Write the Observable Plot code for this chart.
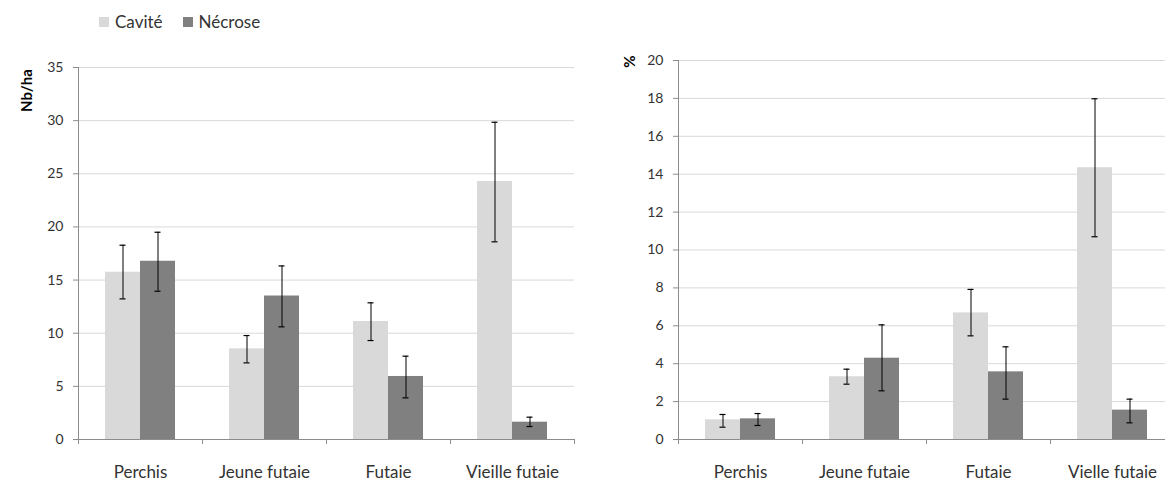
<!DOCTYPE html>
<html>
<head>
<meta charset="utf-8">
<script src="https://cdn.jsdelivr.net/npm/d3@7"></script>
<script src="https://cdn.jsdelivr.net/npm/@observablehq/plot@0.6"></script>
<style>
  html, body { margin: 0; padding: 0; background: #fff; overflow: hidden; width: 1165px; height: 482px; }
  body { position: relative; font-family: Lato, "Noto Sans", sans-serif; color: #333; }
  #legend { position: absolute; left: 99px; top: 11px; font-size: 17px; display: flex; align-items: center; }
  #legend .sw { display: inline-block; width: 10px; height: 10px; margin-right: 6px; }
  #legend .item { display: flex; align-items: center; margin-right: 20px; }
  #left { position: absolute; left: 0; top: 0; width: 580px; height: 482px; }
  #right { position: absolute; left: 580px; top: 0; width: 600px; height: 482px; }
  #left svg, #right svg { max-width: none !important; }
</style>
</head>
<body>
<div id="left"></div>
<div id="right"></div>
<div id="legend"></div>
<script>
// ---- data ----
const categoriesLeft = ["Perchis", "Jeune futaie", "Futaie", "Vieille futaie"];
const categoriesRight = ["Perchis", "Jeune futaie", "Futaie", "Vielle futaie"];
const series = ["Cavité", "Nécrose"];
const seriesColors = ["#d9d9d9", "#808080"];

const densCavite = [15.74, 8.53, 11.1, 24.27];
const densCaviteLow = [13.23, 7.21, 9.31, 18.6];
const densCaviteHigh = [18.28, 9.78, 12.86, 29.85];
const densNecrose = [16.77, 13.5, 5.93, 1.63];
const densNecroseLow = [13.95, 10.6, 3.92, 1.22];
const densNecroseHigh = [19.5, 16.33, 7.84, 2.1];

const pctCavite = [1.04, 3.31, 6.68, 14.34];
const pctCaviteLow = [0.65, 2.92, 5.47, 10.7];
const pctCaviteHigh = [1.32, 3.71, 7.92, 17.98];
const pctNecrose = [1.09, 4.29, 3.57, 1.55];
const pctNecroseLow = [0.74, 2.57, 2.13, 0.88];
const pctNecroseHigh = [1.37, 6.05, 4.89, 2.13];

const densTicks = [0, 5, 10, 15, 20, 25, 30, 35];
const pctTicks = [0, 2, 4, 6, 8, 10, 12, 14, 16, 18, 20];

// ---- legend ----
const legend = document.getElementById("legend");
series.forEach((s, i) => {
  const it = document.createElement("span");
  it.className = "item";
  const sw = document.createElement("span");
  sw.className = "sw";
  sw.style.background = seriesColors[i];
  it.appendChild(sw);
  it.appendChild(document.createTextNode(s));
  legend.appendChild(it);
});

function rows(cats, v, lo, hi) {
  return cats.map((c, i) => ({cat: c, value: v[i], lo: lo[i], hi: hi[i]}));
}

function chart({cats, cav, nec, ticks, ymax, title, width, marginLeft, marginRight, marginTop, titleDx, titleDy}) {
  const step = (width - marginLeft - marginRight) / cats.length;
  const half = step / 2;
  const bw = 35;
  const gap = (step - 2 * bw) / 2;
  const capHalf = 3;
  const axisColor = "#8c8c8c";
  const errMarks = (data, off) => [
    Plot.ruleX(data, {x: "cat", y1: "lo", y2: "hi", dx: off, stroke: "#000", strokeWidth: 1}),
    Plot.tickY(data, {x: "cat", y: "hi", dx: off, stroke: "#000", strokeWidth: 1.2, insetLeft: half - capHalf, insetRight: half - capHalf}),
    Plot.tickY(data, {x: "cat", y: "lo", dx: off, stroke: "#000", strokeWidth: 1.2, insetLeft: half - capHalf, insetRight: half - capHalf})
  ];
  return Plot.plot({
    width,
    height: 482,
    marginLeft, marginRight, marginTop,
    marginBottom: 43,
    style: {fontFamily: "Lato, 'Noto Sans', sans-serif", color: "#333", background: "transparent", overflow: "visible", maxWidth: "none"},
    x: {type: "band", domain: cats, padding: 0, label: null},
    y: {domain: [0, ymax], label: null},
    marks: [
      Plot.gridY(ticks.filter(t => t > 0), {stroke: "#d9d9d9", strokeOpacity: 1, strokeWidth: 1}),
      Plot.barY(cav, {x: "cat", y: "value", fill: seriesColors[0], insetLeft: gap, insetRight: step - gap - bw}),
      Plot.barY(nec, {x: "cat", y: "value", fill: seriesColors[1], insetLeft: gap + bw, insetRight: gap}),
      ...errMarks(cav, -bw / 2),
      ...errMarks(nec, bw / 2),
      Plot.ruleY([0], {stroke: axisColor, strokeWidth: 1}),
      Plot.ruleX(cats.slice(0, 1), {x: d => d, dx: -half, y1: 0, y2: ymax, stroke: axisColor, strokeWidth: 1}),
      Plot.ruleX(cats, {x: d => d, dx: -half, y1: 0, y2: 0, insetBottom: -5, stroke: axisColor}),
      Plot.ruleX(cats.slice(-1), {x: d => d, dx: half, y1: 0, y2: 0, insetBottom: -5, stroke: axisColor}),
      Plot.axisY({ticks, tickSize: 5, tickPadding: 10, stroke: axisColor, fontSize: 14, tickFormat: d3.format("d"), color: "#333"}),
      Plot.axisX({tickSize: 0, tickPadding: 26, fontSize: 17, color: "#333"}),
      Plot.text([title], {text: d => d, frameAnchor: "top-left", rotate: -90, dx: titleDx, dy: titleDy, fontWeight: "bold", fontSize: 15, fill: "#000", textAnchor: "middle"})
    ]
  });
}

document.getElementById("left").appendChild(chart({
  cats: categoriesLeft,
  cav: rows(categoriesLeft, densCavite, densCaviteLow, densCaviteHigh),
  nec: rows(categoriesLeft, densNecrose, densNecroseLow, densNecroseHigh),
  ticks: densTicks, ymax: 35, title: "Nb/ha",
  width: 580, marginLeft: 78, marginRight: 6, marginTop: 67,
  titleDx: -57, titleDy: 23
}));

document.getElementById("right").appendChild(chart({
  cats: categoriesRight,
  cav: rows(categoriesRight, pctCavite, pctCaviteLow, pctCaviteHigh),
  nec: rows(categoriesRight, pctNecrose, pctNecroseLow, pctNecroseHigh),
  ticks: pctTicks, ymax: 20, title: "%",
  width: 600, marginLeft: 98, marginRight: 6, marginTop: 60,
  titleDx: -54, titleDy: 1
}));
</script>
</body>
</html>
